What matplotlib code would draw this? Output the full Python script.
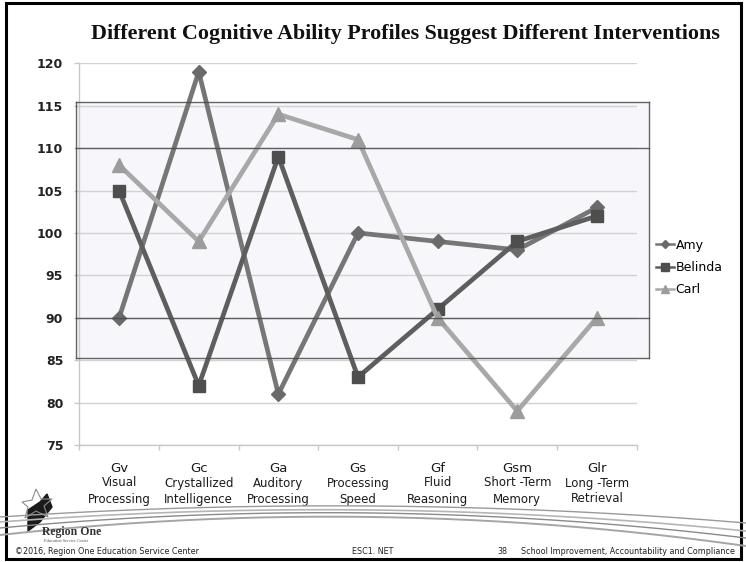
import numpy as np
import matplotlib
matplotlib.use("Agg")
import matplotlib.pyplot as plt
from matplotlib.lines import Line2D
from matplotlib.patches import Rectangle, Polygon
import matplotlib.transforms as mtransforms

# ---- data ----
abilities = ["Gv", "Gc", "Ga", "Gs", "Gf", "Gsm", "Glr"]
ability_names = ["Visual\nProcessing", "Crystallized\nIntelligence", "Auditory\nProcessing",
                 "Processing\nSpeed", "Fluid\nReasoning", "Short -Term\nMemory", "Long -Term\nRetrieval"]
amy = [90, 119, 81, 100, 99, 98, 103]
belinda = [105, 82, 109, 83, 91, 99, 102]
carl = [108, 99, 114, 111, 90, 79, 90]
y_ticks = [75, 80, 85, 90, 95, 100, 105, 110, 115, 120]
band_outer = (85.2, 115.4)
band_inner = (90, 110)

W, H = 746, 562
fig = plt.figure(figsize=(W / 100, H / 100), dpi=100)
fig.patch.set_facecolor("white")

def fx(px):
    return px / W

def fy(py):
    return 1 - py / H

ax = fig.add_axes([fx(79.3), fy(445), fx(636.7) - fx(79.3), fy(63.3) - fy(445)])
ax.set_facecolor("none")
x = np.arange(len(abilities))
ax.set_xlim(-0.5, len(abilities) - 0.5)
ax.set_ylim(75, 120)

# grid and axes
ax.set_yticks(y_ticks)
ax.set_yticklabels([str(v) for v in y_ticks], fontsize=9, fontweight="bold",
                   family="DejaVu Sans", color="#222222")
ax.set_xticks(np.arange(-0.5, len(abilities), 1.0))
ax.set_xticklabels([])
ax.tick_params(axis="y", length=3.6, width=1, color="#c8c8c8", pad=8)
ax.tick_params(axis="x", length=3.6, width=1, color="#c8c8c8")
ax.grid(axis="y", color="#d2d2d2", linewidth=1.0, zorder=0)
for s in ["top", "right"]:
    ax.spines[s].set_visible(False)
for s in ["left", "bottom"]:
    ax.spines[s].set_color("#c8c8c8")
    ax.spines[s].set_linewidth(1.0)

# shaded band (average range) drawn as an overlay box
x0 = (76 - 79.3) / 79.63 - 0.5
x1 = (649.3 - 79.3) / 79.63 - 0.5
ax.add_patch(Rectangle((x0, band_outer[0]), x1 - x0, band_outer[1] - band_outer[0],
                       facecolor="#eeeef8", alpha=0.45, edgecolor="none",
                       clip_on=False, zorder=1))
rect_kw = dict(color="#4a4a4a", linewidth=1.0, alpha=0.85, clip_on=False, zorder=6)
ax.plot([x0, x1], [band_outer[0]] * 2, **rect_kw)
ax.plot([x0, x1], [band_outer[1]] * 2, **rect_kw)
ax.plot([x0, x1], [band_inner[0]] * 2, **rect_kw)
ax.plot([x0, x1], [band_inner[1]] * 2, **rect_kw)
ax.plot([x0, x0], band_outer, **rect_kw)
ax.plot([x1, x1], band_outer, **rect_kw)

# series
series = [
    ("Amy", amy, "#767676", "D", 7, "#6a6a6a"),
    ("Belinda", belinda, "#5e5e5e", "s", 9, "#4e4e4e"),
    ("Carl", carl, "#a8a8a8", "^", 10, "#9c9c9c"),
]
handles = []
for name, vals, col, mk, ms, mcol in series:
    ax.plot(x, vals, color=col, linewidth=3.4, marker=mk, markersize=ms,
            markerfacecolor=mcol, markeredgecolor=mcol, zorder=4, solid_capstyle="round")
    handles.append(Line2D([0], [0], color=col, linewidth=1.8, marker=mk,
                          markersize=ms * 0.6, markerfacecolor=mcol, markeredgecolor=mcol))

fig.legend(handles, [s[0] for s in series], loc="center left",
           bbox_to_anchor=(fx(650), fy(267.5)), frameon=False, borderpad=0,
           handlelength=1.45, handletextpad=0.1, labelspacing=0.75,
           prop={"family": "DejaVu Sans", "size": 9})

# category labels under the axis
trans = mtransforms.blended_transform_factory(ax.transData, fig.transFigure)
for i, (code, name) in enumerate(zip(abilities, ability_names)):
    ax.text(i, fy(468), code, transform=trans, ha="center", va="center",
            fontsize=9.5, family="DejaVu Sans", color="#1a1a1a")
    ax.text(i, fy(491), name, transform=trans, ha="center", va="center",
            fontsize=8.5, family=["Liberation Sans Narrow", "DejaVu Sans"],
            color="#1a1a1a", linespacing=1.3)

# title
fig.text(fx(405), fy(34), "Different Cognitive Ability Profiles Suggest Different Interventions",
         ha="center", va="center", fontsize=15.8, fontweight="bold",
         family=["Liberation Serif", "DejaVu Serif"], color="#111111")

# decorative swoosh lines
xs = np.linspace(0, W, 200)
swoosh = [((517, 506, 523), "#9a9a9a", 1.0),
          ((522, 510, 531), "#b5b5b5", 1.2),
          ((528, 513, 538), "#8a8a8a", 1.0),
          ((535, 517, 546), "#a5a5a5", 1.4)]
for (yl, ym, yr), col, lw in swoosh:
    coef = np.polyfit([0, W / 2, W], [yl, ym, yr], 2)
    ys = np.polyval(coef, xs)
    fig.add_artist(Line2D(fx(xs), fy(ys), color=col, linewidth=lw, transform=fig.transFigure))

# logo
fig.add_artist(Polygon([[fx(28), fy(510)], [fx(40), fy(502)], [fx(47), fy(494)], [fx(52), fy(507)],
                        [fx(40), fy(522)], [fx(28), fy(531)]], closed=True,
                       facecolor="#1a1a1a", edgecolor="#1a1a1a", transform=fig.transFigure))
fig.add_artist(Polygon([[fx(22), fy(502)], [fx(32), fy(500)], [fx(36), fy(489)], [fx(41), fy(499)],
                        [fx(52), fy(499)], [fx(44), fy(506)], [fx(48), fy(517)], [fx(36), fy(511)],
                        [fx(25), fy(518)], [fx(28), fy(507)]], closed=True,
                       facecolor="none", edgecolor="#8a8a8a", linewidth=0.8,
                       transform=fig.transFigure))
fig.text(fx(42), fy(532), "Region One", ha="left", va="center", fontsize=8.5, fontweight="bold",
         family=["Liberation Serif", "DejaVu Serif"], color="#333333")
fig.text(fx(44), fy(541), "Education Service Center", ha="left", va="center", fontsize=3.2,
         family=["Liberation Serif", "DejaVu Serif"], color="#555555")

# footer
foot_kw = dict(fontsize=5.8, family=["Liberation Sans Narrow", "DejaVu Sans"], color="#222222", va="center")
fig.text(fx(15), fy(551), "\u00a92016, Region One Education Service Center", ha="left", **foot_kw)
fig.text(fx(373), fy(551), "ESC1. NET", ha="center", **foot_kw)
fig.text(fx(502), fy(551), "38", ha="center", **foot_kw)
fig.text(fx(735), fy(551), "School Improvement, Accountability and Compliance", ha="right", **foot_kw)

# slide border
fig.add_artist(Rectangle((fx(6), fy(559)), fx(741) - fx(6), fy(3) - fy(559),
                         facecolor="none", edgecolor="black", linewidth=2.2,
                         transform=fig.transFigure))

fig.savefig("out.png", dpi=100, facecolor="white")
